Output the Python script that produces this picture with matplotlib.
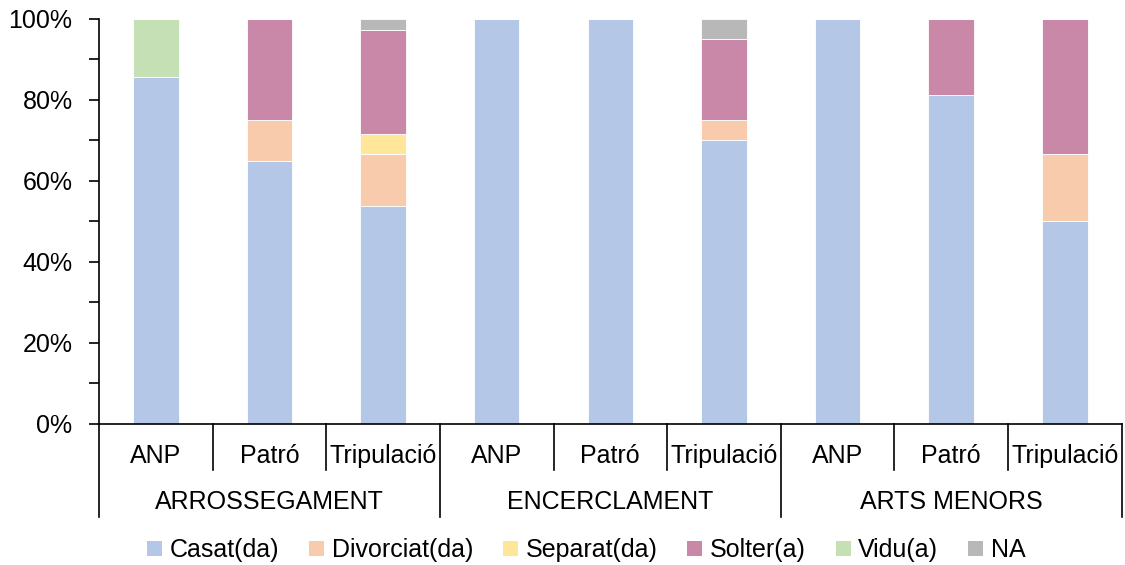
import matplotlib
matplotlib.use("Agg")
import matplotlib.pyplot as plt
import numpy as np
from matplotlib.patches import Patch
from matplotlib.ticker import MultipleLocator, PercentFormatter

plt.rcParams['font.family'] = ['Liberation Sans', 'DejaVu Sans']

# Data (percent of each group)
groups = ["ARROSSEGAMENT", "ENCERCLAMENT", "ARTS MENORS"]
roles = ["ANP", "Patró", "Tripulació"]
series = ["Casat(da)", "Divorciat(da)", "Separat(da)", "Solter(a)", "Vidu(a)", "NA"]

casat     = [85.7, 65.0, 53.8, 100.0, 100.0, 70.0, 100.0, 81.25, 50.0]
divorciat = [0.0, 10.0, 12.8, 0.0, 0.0, 5.0, 0.0, 0.0, 16.7]
separat   = [0.0, 0.0, 5.1, 0.0, 0.0, 0.0, 0.0, 0.0, 0.0]
solter    = [0.0, 25.0, 25.7, 0.0, 0.0, 20.0, 0.0, 18.75, 33.3]
vidu      = [14.3, 0.0, 0.0, 0.0, 0.0, 0.0, 0.0, 0.0, 0.0]
na        = [0.0, 0.0, 2.6, 0.0, 0.0, 5.0, 0.0, 0.0, 0.0]

colors = ["#B4C7E7", "#F8CBAD", "#FFE699", "#C988A8", "#C5E0B4", "#B8B8B8"]
fs = 18

fig = plt.figure(figsize=(11.25, 5.65), dpi=100)
ax = fig.add_axes([0.088, 0.2496, 0.909, 0.7168])

x = np.arange(len(casat))
bottom = np.zeros(len(casat))
for vals, name, col in zip([casat, divorciat, separat, solter, vidu, na], series, colors):
    ax.bar(x, vals, width=0.4, bottom=bottom, color=col, edgecolor="white",
           linewidth=0.6, label=name)
    bottom += np.array(vals)

ax.set_xlim(-0.5, len(casat) - 0.5)
ax.set_ylim(0, 100)
ax.yaxis.set_major_locator(MultipleLocator(20))
ax.yaxis.set_minor_locator(MultipleLocator(10))
ax.yaxis.set_major_formatter(PercentFormatter(decimals=0))
ax.tick_params(axis="y", which="both", length=7, width=1.2, labelsize=fs, pad=12)
ax.tick_params(axis="x", length=0, labelbottom=False)
for s in ["top", "right"]:
    ax.spines[s].set_visible(False)
ax.spines["left"].set_linewidth(1.2)
ax.spines["bottom"].set_linewidth(1.2)

# multi-level category axis
tr = ax.get_xaxis_transform()
for i in range(len(casat)):
    ax.text(i, -0.079, roles[i % 3], transform=tr, ha="center", va="center", fontsize=fs)
for g, name in enumerate(groups):
    ax.text(g * 3 + 1, -0.193, name, transform=tr, ha="center", va="center", fontsize=fs)
for k in range(len(casat) + 1):
    xb = k - 0.5
    depth = -0.23 if k % 3 == 0 else -0.114
    ax.plot([xb, xb], [0, depth], transform=tr, color="black", lw=1.2, clip_on=False)

handles = [Patch(facecolor=c, edgecolor="none") for c in colors]
fig.legend(handles, series, loc="center", bbox_to_anchor=(0.521, 0.026), ncol=6,
           frameon=False, fontsize=fs, handlelength=0.6, handleheight=0.6,
           handletextpad=0.3, columnspacing=1.2, borderpad=0)

fig.savefig("out.png", dpi=100)
